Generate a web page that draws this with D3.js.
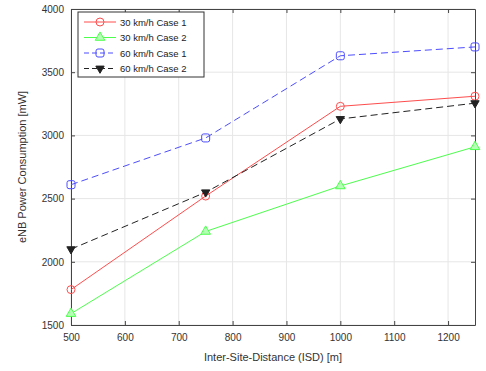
<!DOCTYPE html>
<meta charset="utf-8">
<script src="https://d3js.org/d3.v7.min.js"></script>
<style>
  body { margin: 0; background: #fff; }
  text { font-family: "Liberation Sans", Arial, sans-serif; }
</style>
<body>
<div id="chart"></div>
<script>
// data
var isd = [500, 750, 1000, 1250]
var seriesNames = ["30 km/h Case 1", "30 km/h Case 2", "60 km/h Case 1", "60 km/h Case 2"]
var red30c1 = [1780, 2520, 3230, 3310]
var green30c2 = [1590, 2240, 2600, 2910]
var blue60c1 = [2610, 2980, 3630, 3700]
var black60c2 = [2100, 2550, 3130, 3255]
var xTicks = [500, 600, 700, 800, 900, 1000, 1100, 1200]
var yTicks = [1500, 2000, 2500, 3000, 3500, 4000]

var width = 486, height = 371
var margin = {top: 9, right: 11, bottom: 46, left: 71}

var svg = d3.select("#chart").append("svg")
    .attr("width", width)
    .attr("height", height)

var x = d3.scaleLinear().domain([500, 1250]).range([margin.left, width - margin.right])
var y = d3.scaleLinear().domain([1500, 4000]).range([height - margin.bottom, margin.top])

// grid
svg.append("g").selectAll("line").data(xTicks).enter().append("line")
    .attr("x1", d => x(d)).attr("x2", d => x(d))
    .attr("y1", y(1500)).attr("y2", y(4000))
    .attr("stroke", "#e6e6e6").attr("stroke-width", 1)
svg.append("g").selectAll("line").data(yTicks).enter().append("line")
    .attr("x1", x(500)).attr("x2", x(1250))
    .attr("y1", d => y(d)).attr("y2", d => y(d))
    .attr("stroke", "#e6e6e6").attr("stroke-width", 1)

// axes with inward ticks
var fmt = d3.format("d")
svg.append("g").attr("transform", "translate(0," + y(1500) + ")")
    .call(d3.axisBottom(x).tickValues(xTicks).tickSizeInner(-4).tickSizeOuter(0).tickPadding(9).tickFormat(fmt))
svg.append("g").attr("transform", "translate(0," + y(4000) + ")")
    .call(d3.axisTop(x).tickValues(xTicks).tickSizeInner(-4).tickSizeOuter(0).tickFormat(""))
svg.append("g").attr("transform", "translate(" + x(500) + ",0)")
    .call(d3.axisLeft(y).tickValues(yTicks).tickSizeInner(-4).tickSizeOuter(0).tickPadding(7).tickFormat(fmt))
svg.append("g").attr("transform", "translate(" + x(1250) + ",0)")
    .call(d3.axisRight(y).tickValues(yTicks).tickSizeInner(-4).tickSizeOuter(0).tickFormat(""))

svg.selectAll(".domain").attr("stroke", "#444")
svg.selectAll(".tick line").attr("stroke", "#444")
svg.selectAll(".tick text").attr("fill", "#333").style("font-size", "10px")

// labels
svg.append("text")
    .attr("x", (x(500) + x(1250)) / 2)
    .attr("y", 361)
    .attr("text-anchor", "middle")
    .attr("fill", "#333")
    .style("font-size", "11px")
    .text("Inter-Site-Distance (ISD) [m]")
svg.append("text")
    .attr("transform", "translate(26," + (y(2750)) + ") rotate(-90)")
    .attr("text-anchor", "middle")
    .attr("fill", "#333")
    .style("font-size", "11px")
    .text("eNB Power Consumption [mW]")

var series = [
    {name: seriesNames[0], values: red30c1, color: "#ff4d4d", dash: null, marker: "circle"},
    {name: seriesNames[1], values: green30c2, color: "#4dff4d", dash: null, marker: "triUp"},
    {name: seriesNames[2], values: blue60c1, color: "#4d4dff", dash: "7,4", marker: "square"},
    {name: seriesNames[3], values: black60c2, color: "#222", dash: "7,4", marker: "triDown"}
]

var line = d3.line().x(d => x(d[0])).y(d => y(d[1]))

function drawMarker(g, type, color, cx, cy) {
    if (type === "circle") {
        g.append("circle").attr("cx", cx).attr("cy", cy).attr("r", 4)
            .attr("fill", "none").attr("stroke", color).attr("stroke-width", 1)
    } else if (type === "square") {
        g.append("rect").attr("x", cx - 4).attr("y", cy - 4).attr("width", 8).attr("height", 8).attr("rx", 2)
            .attr("fill", "none").attr("stroke", color).attr("stroke-width", 1)
    } else if (type === "triUp") {
        g.append("path").attr("d", d3.symbol(d3.symbolTriangle, 40)())
            .attr("transform", "translate(" + cx + "," + cy + ")")
            .attr("fill", "#b3ffb3").attr("stroke", color).attr("stroke-width", 1)
    } else {
        g.append("path").attr("d", d3.symbol(d3.symbolTriangle, 30)())
            .attr("transform", "translate(" + cx + "," + cy + ") rotate(180)")
            .attr("fill", color).attr("stroke", color).attr("stroke-width", 1)
    }
}

series.forEach(function (s) {
    var pts = isd.map((v, i) => [v, s.values[i]])
    svg.append("path").datum(pts)
        .attr("d", line)
        .attr("fill", "none")
        .attr("stroke", s.color)
        .attr("stroke-width", 1)
        .attr("stroke-dasharray", s.dash)
    var g = svg.append("g")
    pts.forEach(p => drawMarker(g, s.marker, s.color, x(p[0]), y(p[1])))
})

// legend
var lg = svg.append("g").attr("transform", "translate(78,12)")
lg.append("rect").attr("width", 126).attr("height", 65)
    .attr("fill", "#fff").attr("stroke", "#333").attr("stroke-width", 1)
series.forEach(function (s, i) {
    var yy = 10 + i * 15.5
    lg.append("line").attr("x1", 6).attr("x2", 38).attr("y1", yy).attr("y2", yy)
        .attr("stroke", s.color).attr("stroke-width", 1).attr("stroke-dasharray", s.dash ? "5,3" : null)
    drawMarker(lg, s.marker, s.color, 22, yy)
    lg.append("text").attr("x", 42).attr("y", yy + 3.5)
        .attr("fill", "#222").style("font-size", "9.5px")
        .text(s.name)
})
</script>
</body>
